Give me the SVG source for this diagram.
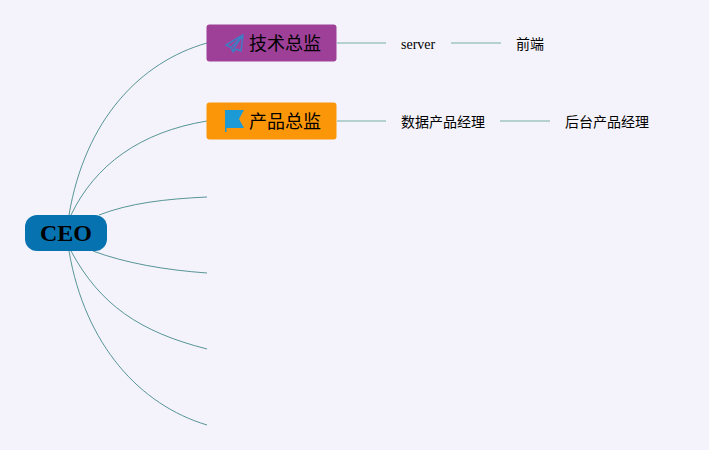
<svg xmlns="http://www.w3.org/2000/svg" width="709" height="450" viewBox="0 0 709 450">
<style>
text{font-family:"Liberation Serif","Noto Sans CJK SC",serif;fill:#000}
.b{fill:none;stroke:#2f7c7c;stroke-width:.8}
.l{fill:none;stroke:#9fc5c1;stroke-width:1.500}
.t{font-size:18px;font-family:"Noto Sans CJK SC",sans-serif}
.s{font-size:14px}
</style>
<rect width="709" height="450" fill="#f4f3fb"/>
<g id="connectors">
<path class="b" d="M69 215C85 120 140 62 207 43"/>
<path class="b" d="M71 215C95 165 140 132 207 121"/>
<path class="b" d="M99 215C130 203 165 199 207 197"/>
<path class="b" d="M93 251C125 263 165 270 207 273"/>
<path class="b" d="M71 251C100 305 140 332 207 349"/>
<path class="b" d="M69 251C85 345 140 405 207 425"/>
<path class="l" d="M337 43H386M451 43H501M337 121H386M500 121H550"/>
</g>
<g id="ceo"><rect x="25" y="215" width="82" height="36" rx="12" fill="#0673b0"/><text x="66" y="241" font-size="24" font-weight="700" text-anchor="middle">CEO</text></g>
<g id="tech"><rect x="206.500" y="24.500" width="130" height="37" rx="3" fill="#9e4098"/>
<path d="M243 35L226 45L231 47.500L233 52L236 49L241 51ZM231 47.500L243 35L234 48L233 52" fill="none" stroke="#3f7cc4" stroke-width="1.500" stroke-linejoin="round"/>
<text class="t" x="249" y="50">技术总监</text></g>
<g id="product"><rect x="206.500" y="102.500" width="130" height="37" rx="3" fill="#fb9609"/>
<path d="M225 110H244L239 119L244 128H226.500V132H225Z" fill="#1b9ad6"/>
<text class="t" x="249" y="128">产品总监</text></g>
<g id="server"><text class="s" x="401" y="49">server</text></g>
<g id="frontend"><text class="s" x="516" y="49">前端</text></g>
<g id="dpm"><text class="s" x="401" y="127">数据产品经理</text></g>
<g id="bpm"><text class="s" x="565" y="127">后台产品经理</text></g>
</svg>
